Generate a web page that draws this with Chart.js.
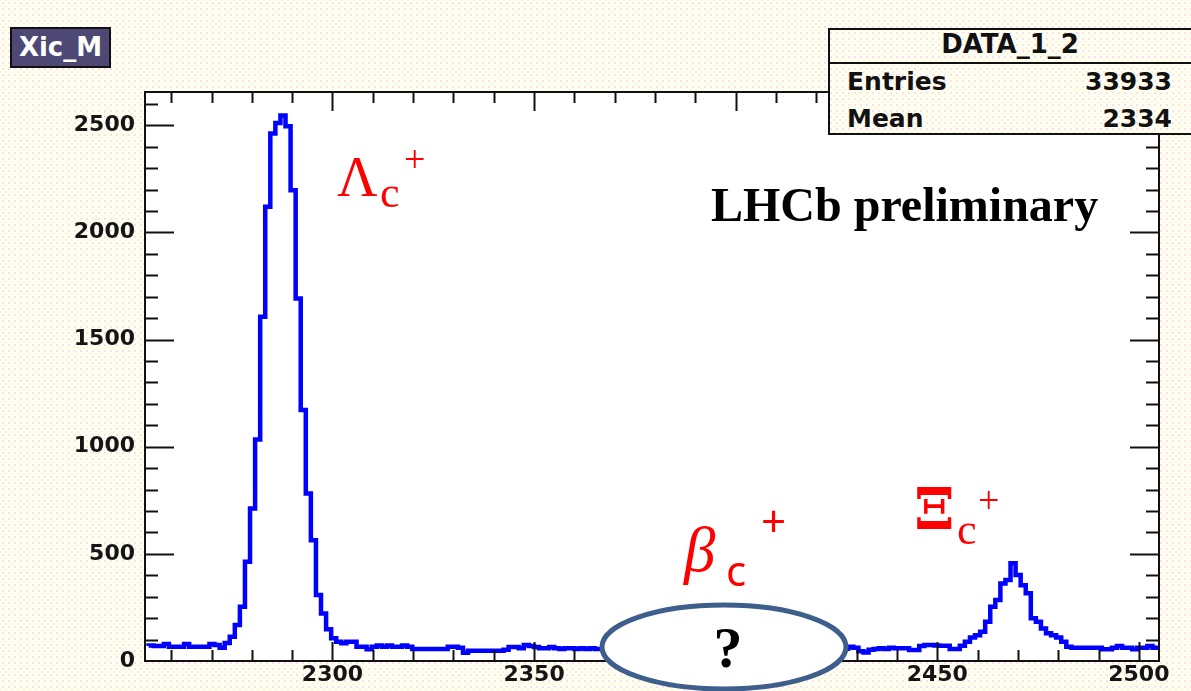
<!DOCTYPE html>
<html>
<head>
<meta charset="utf-8">
<script src="https://cdn.jsdelivr.net/npm/chart.js@4.4.1/dist/chart.umd.min.js"></script>
<style>
  html, body { margin: 0; padding: 0; }
  body {
    width: 1191px; height: 691px; overflow: hidden; position: relative;
    background-color: #fffef3;
    background-image: radial-gradient(circle, rgba(240,170,215,0.35) 0.9px, transparent 1.4px),
                      radial-gradient(circle, rgba(250,240,160,0.35) 0.9px, transparent 1.4px);
    background-size: 6px 6px, 6px 6px;
    background-position: 0 0, 3px 3px;
    background-attachment: fixed;
  }
  canvas { position: absolute; left: 0; top: 0; }
  .title {
    position: absolute; left: 10px; top: 27px; width: 97px; height: 37px;
    background: #4d4874; border: 2px solid #111; color: #fff;
    font: bold 26px "DejaVu Sans"; line-height: 37px; text-align: center;
  }
  .stats {
    position: absolute; left: 828px; top: 28px; width: 370px; height: 103px;
    border: 2px solid #111;
    background-color: #fffef3;
    background-image: inherit; background-size: inherit; background-position: inherit;
    background-attachment: fixed;
    font-family: "DejaVu Sans"; font-weight: bold; color: #111;
  }
  .stats .head { position: absolute; left: 0; top: 0; width: 370px; height: 32px; border-bottom: 2px solid #111; }
  .stats span { position: absolute; line-height: 1; white-space: nowrap; }
</style>
</head>
<body>
<canvas id="chart" width="1191" height="691"></canvas>
<div class="title">Xic_M</div>
<div class="stats">
  <div class="head"></div>
  <span style="left:0;width:360px;text-align:center;top:1px;font-size:26px">DATA_1_2</span>
  <span style="left:17px;top:39px;font-size:25px">Entries</span>
  <span style="left:0;width:342px;text-align:right;top:39px;font-size:25px">33933</span>
  <span style="left:17px;top:76px;font-size:25px">Mean</span>
  <span style="left:0;width:342px;text-align:right;top:76px;font-size:25px">2334</span>
</div>
<script>
// axis range and histogram binning (MeV)
const xMin = 2253.5;
const xMax = 2505;
const histLow = 2254.4;
const binWidth = 1.2575;
const yMax = 2655;

const xTicks = [2300, 2350, 2400, 2450, 2500];
const yTicks = [0, 500, 1000, 1500, 2000, 2500];

// entries per bin
const counts = [
  70, 72, 70, 70, 79, 67, 67, 67, 79, 67,
  67, 67, 67, 79, 75, 62, 84, 113, 168, 253,
  463, 712, 1034, 1606, 2119, 2461, 2510, 2545, 2495, 2197,
  1692, 1171, 782, 564, 308, 222, 148, 106, 90, 83,
  90, 90, 67, 67, 55, 67, 72, 67, 72, 67,
  67, 72, 67, 56, 56, 56, 56, 56, 56, 56,
  67, 67, 62, 39, 48, 48, 48, 48, 48, 48,
  48, 52, 65, 65, 60, 75, 70, 65, 60, 60,
  65, 60, 56, 60, 60, 56, 60, 56, 60, 56,
  // under the ellipse
  56, 52, 58, 54, 50, 55, 57, 53, 52, 56,
  54, 58, 51, 55, 53, 57, 52, 54, 56, 50,
  53, 55, 57, 52, 54, 56, 51, 55, 53, 57,
  54, 52, 56, 53, 55, 58, 52, 54, 56, 53,
  51, 55, 57, 54, 52, 56, 53, 55, 57,
  67, 62, 45, 40, 52, 56, 60, 56, 62, 60,
  59, 59, 51, 51, 70, 75, 75, 72, 71, 71,
  56, 56, 71, 90, 110, 120, 137, 183, 253, 285,
  362, 378, 456, 401, 354, 316, 199, 183, 152, 129,
  120, 110, 90, 67, 62, 62, 62, 62, 62, 62,
  55, 55, 62, 70, 62, 62, 55, 62, 62, 70, 62
];

const points = counts.map((c, i) => ({ x: histLow + i * binWidth, y: c }));
points.push({ x: histLow + counts.length * binWidth, y: counts[counts.length - 1] });

const tickFont = { family: 'DejaVu Sans', weight: 'bold', size: 22 };

const rootFrame = {
  id: 'rootFrame',
  beforeDraw(chart) {
    const { ctx, chartArea: a } = chart;
    ctx.save();
    ctx.fillStyle = '#ffffff';
    ctx.fillRect(a.left, a.top, a.right - a.left, a.bottom - a.top);
    ctx.restore();
  },
  afterDatasetsDraw(chart) {
    const { ctx, chartArea: a } = chart;
    const xs = chart.scales.x, ys = chart.scales.y;
    ctx.save();
    ctx.strokeStyle = '#111';
    ctx.lineWidth = 2;
    ctx.strokeRect(a.left, a.top, a.right - a.left, a.bottom - a.top);
    ctx.beginPath();
    for (let v = 2260; v <= 2500; v += 10) {
      const px = Math.round(xs.getPixelForValue(v)) + 0.5;
      const len = v % 50 === 0 ? 19 : 11;
      ctx.moveTo(px, a.bottom); ctx.lineTo(px, a.bottom - len);
      ctx.moveTo(px, a.top); ctx.lineTo(px, a.top + len);
    }
    for (let v = 100; v <= 2600; v += 100) {
      const py = Math.round(ys.getPixelForValue(v)) + 0.5;
      const len = v % 500 === 0 ? 29 : 13;
      ctx.moveTo(a.left, py); ctx.lineTo(a.left + len, py);
      ctx.moveTo(a.right, py); ctx.lineTo(a.right - len, py);
    }
    ctx.stroke();
    ctx.restore();
  },
  afterDraw(chart) {
    const ctx = chart.ctx;
    ctx.save();
    // annotation texts
    ctx.fillStyle = '#000';
    ctx.font = 'bold 48px "Liberation Serif"';
    ctx.fillText('LHCb preliminary', 711, 221);

    ctx.fillStyle = '#ff0000';
    ctx.font = '56px "Liberation Serif"';
    ctx.fillText('Λ', 337, 196);
    ctx.font = '44px "Liberation Serif"';
    ctx.fillText('c', 380, 207);
    ctx.font = '38px "Liberation Serif"';
    ctx.fillText('+', 404, 172);

    ctx.font = 'bold 58px "DejaVu Serif"';
    ctx.fillText('Ξ', 914, 529);
    ctx.font = '44px "Liberation Serif"';
    ctx.fillText('c', 957, 544);
    ctx.font = '38px "Liberation Serif"';
    ctx.fillText('+', 978, 513);

    ctx.font = 'italic 63px "Liberation Serif"';
    ctx.fillText('β', 684, 571);
    ctx.font = '42px "Noto Sans"';
    ctx.fillText('c', 726, 586);
    ctx.font = '44px "Noto Sans"';
    ctx.fillText('+', 761, 537);

    // ellipse with question mark
    ctx.beginPath();
    ctx.ellipse(724, 647, 122, 42, 0, 0, Math.PI * 2);
    ctx.fillStyle = '#ffffff';
    ctx.fill();
    ctx.lineWidth = 5;
    ctx.strokeStyle = '#3e5f8b';
    ctx.stroke();
    ctx.fillStyle = '#000';
    ctx.font = 'bold 58px "Liberation Serif"';
    ctx.textAlign = 'center';
    ctx.fillText('?', 728, 667);
    ctx.restore();
  }
};

new Chart(document.getElementById('chart'), {
  type: 'line',
  data: {
    datasets: [{
      label: 'Xic_M',
      data: points,
      stepped: 'after',
      borderColor: '#0000ff',
      borderWidth: 4.5,
      pointRadius: 0,
      fill: false
    }]
  },
  options: {
    responsive: false,
    animation: false,
    devicePixelRatio: 1,
    layout: { padding: { left: 0, top: 92, right: 32, bottom: 0 } },
    plugins: { legend: { display: false }, tooltip: { enabled: false } },
    scales: {
      x: {
        type: 'linear', min: xMin, max: xMax,
        grid: { display: false, drawTicks: false },
        border: { display: false },
        afterBuildTicks: s => { s.ticks = xTicks.map(v => ({ value: v })); },
        afterFit: s => { s.height = 30; },
        ticks: { font: tickFont, color: '#151515', padding: 1, maxRotation: 0, autoSkip: false, callback: v => String(v) }
      },
      y: {
        type: 'linear', min: 0, max: yMax,
        grid: { display: false, drawTicks: false },
        border: { display: false },
        afterBuildTicks: s => { s.ticks = yTicks.map(v => ({ value: v })); },
        afterFit: s => { s.width = 145; },
        ticks: { font: tickFont, color: '#151515', padding: 10, autoSkip: false, callback: v => String(v) }
      }
    }
  },
  plugins: [rootFrame]
});
</script>
</body>
</html>
